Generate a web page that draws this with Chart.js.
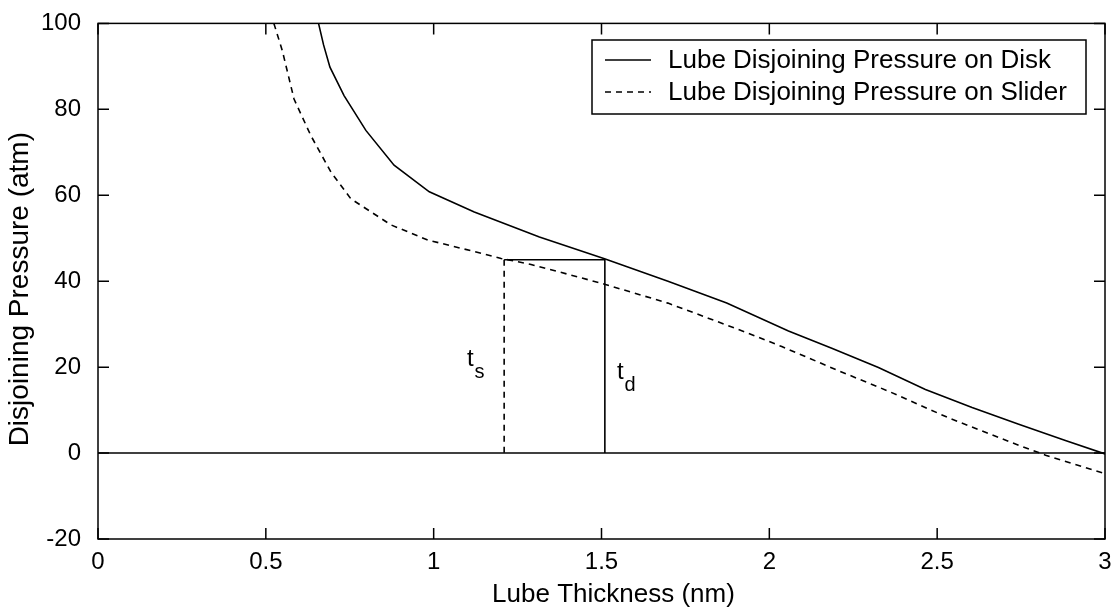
<!DOCTYPE html>
<html>
<head>
<meta charset="utf-8">
<script src="https://cdn.jsdelivr.net/npm/chart.js@4.4.0/dist/chart.umd.min.js"></script>
<style>
    html, body { margin: 0; padding: 0; background: #fff; }
    #wrap { width: 1115px; height: 609px; position: relative; }
</style>
</head>
<body>
<div id="wrap"><canvas id="pressureChart"></canvas></div>
<script>
// values (thickness in nm, pressure in atm)
const diskThickness = [0.657, 0.672, 0.691, 0.733, 0.798, 0.882, 0.987, 1.121, 1.315, 1.509,
    1.698, 1.873, 2.057, 2.186, 2.325, 2.465, 2.604, 2.743, 2.882, 3.0];
const diskPressure = [100, 95, 89.8, 83.2, 75.1, 67.0, 60.8, 56.1, 50.3, 45.2,
    40.0, 34.9, 28.4, 24.4, 19.9, 14.8, 10.6, 6.7, 2.9, -0.2];

const sliderThickness = [0.524, 0.549, 0.584, 0.634, 0.694, 0.753, 0.873, 0.982, 1.121, 1.201,
    1.29, 1.439, 1.509, 1.698, 1.818, 1.897, 2.037, 2.205, 2.355, 2.534, 2.743, 2.823, 3.0];
const sliderPressure = [100, 93.7, 82.4, 73.9, 65.4, 59.2, 53.1, 49.6, 46.9, 45.3,
    43.9, 40.8, 39.3, 34.9, 31.4, 29.1, 24.8, 19.2, 14.4, 8.2, 1.8, -0.5, -4.8];

// construction lines for t_s and t_d
const tsLineX = [1.21, 1.21];
const tsLineY = [45, 0];
const tdLineX = [1.21, 1.51, 1.51];
const tdLineY = [45, 45, 0];
const zeroLineX = [0, 3];
const zeroLineY = [0, 0];

const xTicks = [0, 0.5, 1, 1.5, 2, 2.5, 3];
const yTicks = [-20, 0, 20, 40, 60, 80, 100];

const xTitle = "Lube Thickness (nm)";
const yTitle = "Disjoining Pressure (atm)";
const legendLabels = ["Lube Disjoining Pressure on Disk", "Lube Disjoining Pressure on Slider"];
// annotation text: [main, subscript, thickness, pressure]
const thicknessMarks = [["t", "s", 1.099, 21.7], ["t", "d", 1.546, 18.7]];

const FONT = "'Liberation Sans', Arial, sans-serif";

function toPoints(xs, ys) {
    return xs.map((x, i) => ({ x: x, y: ys[i] }));
}

function lineSet(label, xs, ys, dashed) {
    return {
        label: label,
        data: toPoints(xs, ys),
        showLine: true,
        borderColor: "#000",
        borderWidth: 1.6,
        borderDash: dashed ? [6, 5] : [],
        pointRadius: 0,
        pointHoverRadius: 0,
        fill: false,
        tension: 0,
    };
}

// MATLAB style box, inward ticks, titles, legend and t_s / t_d labels
const matlabFrame = {
    id: "matlabFrame",
    afterDatasetsDraw(chart) {
        const { ctx, chartArea: a, scales } = chart;
        const x = scales.x;
        const y = scales.y;
        ctx.save();
        ctx.strokeStyle = "#000";
        ctx.lineWidth = 1.5;
        ctx.setLineDash([]);
        ctx.strokeRect(a.left, a.top, a.right - a.left, a.bottom - a.top);

        ctx.beginPath();
        xTicks.forEach((v) => {
            const px = x.getPixelForValue(v);
            ctx.moveTo(px, a.bottom);
            ctx.lineTo(px, a.bottom - 11);
            ctx.moveTo(px, a.top);
            ctx.lineTo(px, a.top + 11);
        });
        yTicks.forEach((v) => {
            const py = y.getPixelForValue(v);
            ctx.moveTo(a.left, py);
            ctx.lineTo(a.left + 11, py);
            ctx.moveTo(a.right, py);
            ctx.lineTo(a.right - 11, py);
        });
        ctx.stroke();

        // axis titles
        ctx.fillStyle = "#000";
        ctx.textBaseline = "middle";
        ctx.textAlign = "center";
        ctx.font = "26px " + FONT;
        ctx.fillText(xTitle, (a.left + a.right) / 2 + 12, 595);
        ctx.save();
        ctx.font = "28px " + FONT;
        ctx.translate(20, (a.top + a.bottom) / 2 + 8);
        ctx.rotate(-Math.PI / 2);
        ctx.fillText(yTitle, 0, 0);
        ctx.restore();

        // t_s, t_d
        ctx.textAlign = "left";
        thicknessMarks.forEach((m) => {
            const px = x.getPixelForValue(m[2]);
            const py = y.getPixelForValue(m[3]);
            ctx.font = "24px " + FONT;
            ctx.fillText(m[0], px, py);
            const w = ctx.measureText(m[0]).width;
            ctx.font = "20px " + FONT;
            ctx.fillText(m[1], px + w + 1, py + 13);
        });

        // legend
        const box = { left: 592, top: 40, width: 494, height: 74 };
        ctx.fillStyle = "#fff";
        ctx.fillRect(box.left, box.top, box.width, box.height);
        ctx.strokeRect(box.left, box.top, box.width, box.height);
        ctx.font = "26px " + FONT;
        const rows = [box.top + 20, box.top + 52];
        legendLabels.forEach((text, i) => {
            const ds = chart.data.datasets[i];
            ctx.setLineDash(ds.borderDash);
            ctx.lineWidth = ds.borderWidth;
            ctx.beginPath();
            ctx.moveTo(box.left + 13, rows[i]);
            ctx.lineTo(box.left + 59, rows[i]);
            ctx.stroke();
            ctx.setLineDash([]);
            ctx.fillStyle = "#000";
            ctx.fillText(text, box.left + 76, rows[i] + 1);
        });
        ctx.restore();
    },
};

const ctx = document.getElementById("pressureChart");
new Chart(ctx, {
    type: "scatter",
    data: {
        datasets: [
            lineSet(legendLabels[0], diskThickness, diskPressure, false),
            lineSet(legendLabels[1], sliderThickness, sliderPressure, true),
            lineSet("zero", zeroLineX, zeroLineY, false),
            lineSet("ts", tsLineX, tsLineY, true),
            lineSet("td", tdLineX, tdLineY, false),
        ],
    },
    options: {
        responsive: true,
        maintainAspectRatio: false,
        animation: false,
        layout: {
            padding: { top: 17, right: 10, left: 0, bottom: 0 },
        },
        scales: {
            x: {
                type: "linear",
                min: 0,
                max: 3,
                afterBuildTicks: (s) => { s.ticks = xTicks.map((v) => ({ value: v })); },
                afterFit: (s) => { s.height = 70; },
                grid: { display: false },
                border: { display: false },
                ticks: {
                    color: "#000",
                    padding: 1,
                    maxRotation: 0,
                    autoSkip: false,
                    font: { family: FONT, size: 24 },
                    callback: (v) => String(v),
                },
            },
            y: {
                type: "linear",
                min: -20,
                max: 100,
                afterBuildTicks: (s) => { s.ticks = yTicks.map((v) => ({ value: v })); },
                afterFit: (s) => { s.width = 98; },
                grid: { display: false },
                border: { display: false },
                ticks: {
                    color: "#000",
                    padding: 9,
                    autoSkip: false,
                    font: { family: FONT, size: 24 },
                    callback: (v) => String(v),
                },
            },
        },
        plugins: {
            legend: { display: false },
            tooltip: { enabled: false },
        },
    },
    plugins: [matlabFrame],
});
</script>
</body>
</html>
